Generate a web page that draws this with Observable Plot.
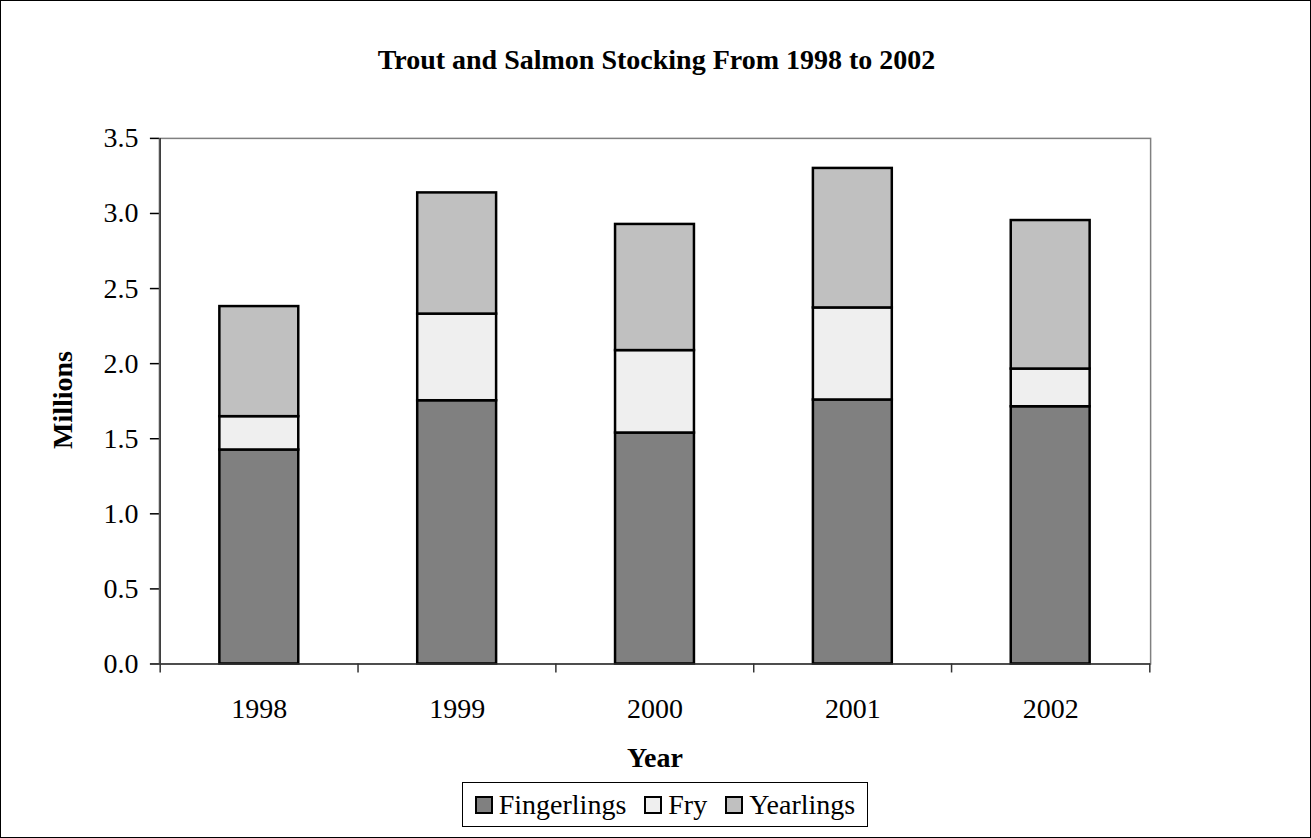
<!DOCTYPE html>
<html>
<head>
<meta charset="utf-8">
<script src="https://cdn.jsdelivr.net/npm/d3@7"></script>
<script src="https://cdn.jsdelivr.net/npm/@observablehq/plot@0.6"></script>
<style>
  html, body { margin: 0; padding: 0; background: #fff; }
  #frame { position: relative; width: 1311px; height: 838px; box-sizing: border-box; border: 1px solid #000; overflow: hidden; font-family: "Liberation Serif", "Times New Roman", serif; color: #000; }
  #chart { position: absolute; left: -1px; top: -1px; }
  .title { position: absolute; left: 0; width: 1311px; top: 42px; text-align: center; font-weight: bold; font-size: 28px; line-height: 34px; }
  .xlabel { position: absolute; left: 454px; width: 400px; top: 740px; text-align: center; font-weight: bold; font-size: 28px; line-height: 34px; }
  .ylabel { position: absolute; left: 62px; top: 399px; transform: translate(-50%, -50%) rotate(-90deg); font-weight: bold; font-size: 28px; line-height: 34px; white-space: nowrap; }
  .legend { position: absolute; left: 461px; top: 781px; width: 406px; height: 45px; box-sizing: border-box; border: 1px solid #000; display: flex; align-items: center; justify-content: center; font-size: 28px; line-height: 30px; }
  .item { display: flex; align-items: center; margin: 0 9px; }
  .sw { width: 14px; height: 14px; border: 2.5px solid #000; margin-right: 6px; }
</style>
</head>
<body>
<div id="frame">
  <div id="chart"></div>
  <div class="title">Trout and Salmon Stocking From 1998 to 2002</div>
  <div class="ylabel">Millions</div>
  <div class="xlabel">Year</div>
  <div class="legend" id="legend"></div>
</div>
<script>
// ---- data ----
const years = ["1998", "1999", "2000", "2001", "2002"];
const seriesNames = ["Fingerlings", "Fry", "Yearlings"];
const fingerlings = [1.425, 1.753, 1.538, 1.758, 1.713];
const fry = [0.222, 0.577, 0.549, 0.613, 0.251];
const yearlings = [0.733, 0.807, 0.840, 0.929, 0.989];
const seriesColors = ["#808080", "#efefef", "#c0c0c0"];
const yTicks = [0, 0.5, 1.0, 1.5, 2.0, 2.5, 3.0, 3.5];

const seriesValues = [fingerlings, fry, yearlings];
const rows = [];
years.forEach((yr, i) => {
  seriesNames.forEach((s, k) => rows.push({year: yr, series: s, value: seriesValues[k][i]}));
});

// ---- layout ----
const W = 1311, H = 720;
const mL = 159, mR = 160, mT = 138, mB = 56;
const step = (W - mL - mR) / years.length;
const plotH = H - mT - mB;
const barInset = step * 0.3;

const chart = Plot.plot({
  width: W,
  height: H,
  marginLeft: mL,
  marginRight: mR,
  marginTop: mT,
  marginBottom: mB,
  style: {fontFamily: "'Liberation Serif', 'Times New Roman', serif", color: "#000", background: "transparent", overflow: "visible"},
  x: {domain: years, padding: 0, label: null},
  y: {domain: [0, 3.5], label: null},
  color: {domain: seriesNames, range: seriesColors},
  marks: [
    Plot.frame({stroke: "#808080", strokeWidth: 1.5}),
    Plot.barY(rows, {x: "year", y: "value", fill: "series", stroke: "#000", strokeWidth: 2.5, insetLeft: barInset, insetRight: barInset}),
    Plot.ruleY([0], {stroke: "#333", strokeWidth: 1.5}),
    Plot.ruleX(years.slice(0, 1), {dx: -step / 2, stroke: "#333", strokeWidth: 1.5}),
    Plot.ruleX(years, {dx: -step / 2, insetTop: plotH, insetBottom: -9, stroke: "#333", strokeWidth: 1.5}),
    Plot.ruleX(years.slice(-1), {dx: step / 2, insetTop: plotH, insetBottom: -9, stroke: "#333", strokeWidth: 1.5}),
    Plot.axisY({ticks: yTicks, tickFormat: d3.format(".1f"), tickSize: 9, tickPadding: 12, fontSize: 28, label: null, strokeWidth: 1.5}),
    Plot.axisX({tickSize: 0, tickPadding: 34, fontSize: 28, label: null})
  ]
});
document.getElementById("chart").appendChild(chart);

// ---- legend ----
const legend = document.getElementById("legend");
seriesNames.forEach((s, k) => {
  const it = document.createElement("div");
  it.className = "item";
  const sw = document.createElement("div");
  sw.className = "sw";
  sw.style.background = seriesColors[k];
  const tx = document.createElement("span");
  tx.textContent = s;
  it.appendChild(sw);
  it.appendChild(tx);
  legend.appendChild(it);
});
</script>
</body>
</html>
